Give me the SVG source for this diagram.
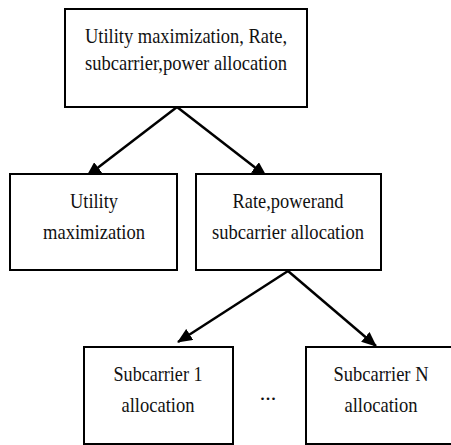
<svg xmlns="http://www.w3.org/2000/svg" width="451" height="445" viewBox="0 0 451 445">
<defs>
<style>
.box{fill:#fff;stroke:#000;stroke-width:2}
.t{font-family:"Liberation Serif","Times New Roman",serif;font-size:22px;fill:#111;text-anchor:middle}
.c{stroke:#000;stroke-width:2.5;fill:none;marker-end:url(#ah)}
</style>
<marker id="ah" viewBox="0 0 15 13" refX="14" refY="6.5" markerWidth="15" markerHeight="13" markerUnits="userSpaceOnUse" orient="auto">
<path d="M0,0 L15,6.5 L0,13 Z" fill="#000"/>
</marker>
</defs>
<rect width="451" height="445" fill="#fff"/>
<g id="connectors">
<line class="c" x1="177" y1="107" x2="87" y2="176"/>
<line class="c" x1="177" y1="107" x2="266" y2="176"/>
<line class="c" x1="288" y1="271" x2="178" y2="342"/>
<line class="c" x1="288" y1="271" x2="376" y2="346"/>
</g>
<g id="top">
<rect class="box" x="65" y="9" width="242" height="98"/>
<text class="t" x="186" y="43" textLength="202" lengthAdjust="spacingAndGlyphs">Utility maximization, Rate,</text>
<text class="t" x="186" y="70" textLength="202" lengthAdjust="spacingAndGlyphs">subcarrier,power allocation</text>
</g>
<g id="utility">
<rect class="box" x="10" y="174" width="167" height="96"/>
<text class="t" x="94" y="208" textLength="48" lengthAdjust="spacingAndGlyphs">Utility</text>
<text class="t" x="94" y="239" textLength="102" lengthAdjust="spacingAndGlyphs">maximization</text>
</g>
<g id="rate">
<rect class="box" x="196" y="174" width="185" height="96"/>
<text class="t" x="288" y="208" textLength="111" lengthAdjust="spacingAndGlyphs">Rate,powerand</text>
<text class="t" x="288" y="239" textLength="152" lengthAdjust="spacingAndGlyphs">subcarrier allocation</text>
</g>
<g id="sub1">
<rect class="box" x="84" y="347" width="149" height="97"/>
<text class="t" x="158" y="381" textLength="89" lengthAdjust="spacingAndGlyphs">Subcarrier 1</text>
<text class="t" x="158" y="412" textLength="73" lengthAdjust="spacingAndGlyphs">allocation</text>
</g>
<g id="ellipsis">
<text class="t" x="268" y="400">...</text>
</g>
<g id="subN">
<rect class="box" x="306" y="347" width="150" height="97"/>
<text class="t" x="381" y="381" textLength="95" lengthAdjust="spacingAndGlyphs">Subcarrier N</text>
<text class="t" x="381" y="412" textLength="73" lengthAdjust="spacingAndGlyphs">allocation</text>
</g>
</svg>
